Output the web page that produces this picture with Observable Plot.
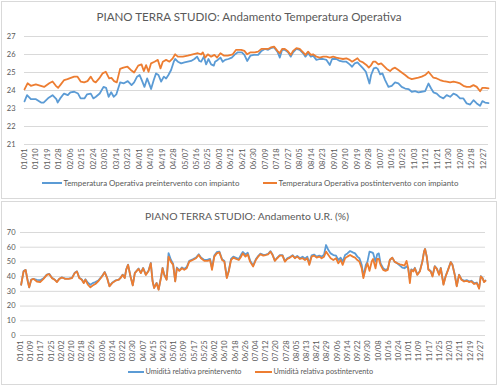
<!DOCTYPE html>
<html><head><meta charset="utf-8">
<script src="https://cdn.jsdelivr.net/npm/d3@7"></script>
<script src="https://cdn.jsdelivr.net/npm/@observablehq/plot@0.6"></script>
<style>
body{margin:0;background:#fff;font-family:Lato,sans-serif;}
#wrap{position:relative;width:500px;height:386px;overflow:hidden;background:#fff;}
.panel{position:absolute;border:1px solid #d9d9d9;box-sizing:border-box;}
.title{position:absolute;text-align:center;color:#595959;line-height:12px;white-space:nowrap;}
.chart{position:absolute;left:0;}
.legend{position:absolute;color:#595959;white-space:nowrap;}
.sw{position:absolute;height:2px;}
</style></head><body><div id="wrap"></div>
<script>
// ---------- Temperature (top chart) ----------
const tempTitle = "PIANO TERRA STUDIO: Andamento Temperatura Operativa";
const tempSeriesNames = ["Temperatura Operativa preintervento con impianto", "Temperatura Operativa postintervento con impianto"];
const tempYTicks = [21, 22, 23, 24, 25, 26, 27];
const tempTickLabels = ["01/01","01/10","01/19","01/28","02/06","02/15","02/24","03/05","03/14","03/23","04/01","04/10","04/19","04/28","05/07","05/16","05/25","06/03","06/12","06/21","06/30","07/09","07/18","07/27","08/05","08/14","08/23","09/01","09/10","09/19","09/28","10/07","10/16","10/25","11/03","11/12","11/21","11/30","12/09","12/18","12/27"];
const tempPreDay = [0,2,5,9,13,15,19,22,25,26,28,31,34,36,39,42,44,47,49,52,54,56,59,62,64,66,68,70,72,75,78,81,84,86,88.3,90.3,92,94.1,96.2,98,99.3,101.4,103.2,105.1,107.2,109.3,111.1,112.9,115,117.1,118.2,120.3,122.9,125.5,128.1,130.7,133.3,135.4,137.2,138.6,140.7,142.5,144.3,146.4,148.5,149.5,151.6,153.7,155.5,157.4,160,162.6,164.7,167.3,170.5,172.5,174.7,177.3,179.9,183.3,185.9,188.5,191.1,193.2,195.8,198.4,200.3,202.1,204.2,206.8,208.9,210.7,213.3,215.9,218.6,220.4,222.5,224.6,226.4,229,231.6,234.3,236.9,239.5,241.3,244.7,247.3,249.9,252.5,255.1,257,259.1,261.2,263,265.6,267.8,269.4,270.6,271.9,274,275.8,277.1,279,280.8,282.9,285.5,288.1,290.7,293.3,295.9,298.6,301.2,303.8,306.4,309,311.6,314.3,316.9,319,320.8,323.4,326,328.6,331.2,333.9,336.5,339.1,341.7,344.3,346.9,349.6,352.2,354.8,357.4,359.2,361.3,364];
const tempPre = [23.4,23.74,23.52,23.52,23.33,23.33,23.6,23.74,23.52,23.33,23.56,23.83,23.74,23.9,23.93,23.83,23.56,23.56,23.78,23.83,23.56,23.65,23.83,24.2,24.15,23.65,23.9,23.65,23.78,24.45,24.4,24.52,24.3,24.45,24.77,24.86,24.58,24.2,24.67,24.34,24.08,24.58,24.95,24.86,24.49,24.77,24.67,24.86,25.14,25.6,25.75,25.6,25.51,25.56,25.6,25.64,25.75,25.88,25.64,25.6,25.88,25.45,25.75,25.45,25.38,25.6,25.7,25.83,25.6,25.7,25.75,25.83,25.98,26.12,26.12,25.98,25.64,25.94,25.98,25.98,26.2,26.31,26.26,26.35,26.39,26.16,25.83,26.26,26.26,26.12,25.88,26.12,26.31,26.26,26.07,25.88,26.07,25.88,25.94,25.7,25.75,25.75,25.7,25.42,25.75,25.75,25.64,25.6,25.6,25.45,25.32,25.51,25.56,25.42,25.23,25.04,24.67,24.39,24.86,25.23,25.27,25.2,24.9,24.95,24.58,24.2,24.26,24.45,24.39,24.2,24.11,24.08,23.93,23.96,23.9,23.93,23.96,24.39,24.11,23.9,23.83,23.65,23.56,23.74,23.65,23.83,23.74,23.56,23.56,23.28,23.22,23.46,23.28,23.15,23.41,23.33,23.3];
const tempPostDay = [0,2.4,5,8.9,12.8,15.4,19.4,22,24.6,26.4,28.5,31.1,33.7,36.3,39,41.6,44.2,46.8,49.4,52,54.1,55.9,58.6,61.2,63.8,66.4,68.2,70.3,72.4,75,77.6,80.8,83.4,86,89.2,91.8,93.6,95.4,97.3,99.3,102,104.6,106.7,108.5,111.1,113.7,116.3,118.2,120.3,124.2,128.1,132,136,138.6,139.9,141.7,143.8,146.4,149,151.1,153.7,156.3,159.5,163.4,166,170,172.5,174.7,177.3,180.7,183.3,185.9,188.5,191.1,193.2,195.8,198.4,200.3,202.1,204.2,206.3,208.9,210.7,213.3,215.9,218.6,220.4,222.5,224.6,226.4,229,231.6,234.3,236.9,239.5,242.1,244.7,247.3,249.9,252.5,255.1,257,259.1,261.2,263,265.6,268.2,270.1,271.6,273.5,275.3,277.6,279.8,281.6,284.2,286.8,288.6,290.7,293.3,295.9,298.6,301.2,303.8,306.4,309,311.6,314.3,316.9,319,320.8,323.4,326,328.6,331.2,333.9,336.5,339.1,341.7,344.3,346.9,349.6,352.2,354.8,357.4,359.2,361.3,364];
const tempPost = [24.06,24.4,24.26,24.34,24.26,24.2,24.4,24.5,24.26,24.15,24.34,24.58,24.63,24.7,24.77,24.77,24.49,24.45,24.52,24.77,24.52,24.45,24.67,24.95,25.04,24.67,24.7,24.52,24.45,25.2,25.27,25.32,25.14,25.0,25.38,25.45,25.08,25.41,25.04,25.51,25.6,25.7,25.23,25.6,25.7,25.6,25.79,26.01,25.88,25.88,25.94,26.01,26.07,26.01,26.12,25.83,26.01,25.88,25.98,25.83,26.07,25.94,25.94,26.01,26.26,26.26,26.2,26.01,26.12,26.12,26.16,26.31,26.31,26.31,26.39,26.44,26.2,26.07,26.31,26.31,26.2,25.98,26.2,26.35,26.31,26.12,25.98,26.16,25.98,26.01,25.88,25.83,25.88,25.88,25.83,25.88,25.83,25.79,25.75,25.79,25.7,25.6,25.7,25.79,25.64,25.56,25.42,25.27,25.38,25.6,25.6,25.45,25.51,25.38,25.2,25.08,25.2,25.27,25.14,25.0,24.86,24.71,24.63,24.67,24.71,24.77,24.86,25.04,24.86,24.71,24.67,24.58,24.52,24.49,24.45,24.49,24.45,24.39,24.26,24.2,24.2,24.3,24.2,23.96,24.15,24.15,24.12];

// ---------- Relative humidity (bottom chart) ----------
const rhTitle = "PIANO TERRA STUDIO: Andamento U.R. (%)";
const rhSeriesNames = ["Umidità relativa preintervento", "Umidità relativa postintervento"];
const rhYTicks = [0, 10, 20, 30, 40, 50, 60, 70];
const rhTickLabels = ["01/01","01/09","01/17","01/25","02/02","02/10","02/18","02/26","03/06","03/14","03/22","03/30","04/07","04/15","04/23","05/01","05/09","05/17","05/25","06/02","06/10","06/18","06/26","07/04","07/12","07/20","07/28","08/05","08/13","08/21","08/29","09/06","09/14","09/22","09/30","10/08","10/16","10/24","11/01","11/09","11/17","11/25","12/03","12/11","12/19","12/27"];
const rhDay = [0.5,2.4,4,5.7,6.8,8.4,10.2,12.8,15.4,18,20.6,22.5,24.6,26.7,28.5,30.4,32.4,35,37.7,40.3,42.4,44.2,46,48,49.5,50.8,52.8,54.7,56.5,58.6,61.2,63.8,65.9,67.8,69.6,71.7,74.3,76.9,78.2,80,81.6,82.7,84.2,86.1,87.9,89.5,92.4,94.2,96,98.1,100.2,102,103.4,104.6,106.5,108.1,109.9,111.2,112.5,114.4,115.9,117.7,119.5,121.1,122.4,124.3,126.4,128.2,130.1,132.1,134.8,137.4,139.5,141.3,143.9,146.5,148.4,149.9,151.7,153.6,155.7,157.8,159.6,161.5,163,164.8,166.6,168.8,170.9,172.7,174,176.1,177.9,179.7,182.1,184.2,186,187.8,190,192,193.9,195.7,197.3,199.1,200.9,203,205.1,207,208.8,210.9,213,214.8,216.6,218.8,220.8,222.7,224.5,226.1,227.9,229.8,231.8,233.9,235.7,237.6,239.2,241,242.8,244.9,247,248.8,250.6,252.2,254.1,255.9,258,260.1,261.9,263.7,265.3,267.1,268.4,270.3,271.6,273.2,275,276,277.9,279.2,280.5,281.8,283.9,285.7,287.5,289.1,291,292.8,294.9,297,298.8,300.6,302.2,303.5,304.8,305.9,307.5,308.7,310.6,312.6,314.6,315.9,316.7,318,319.3,321.1,322.5,324.3,325.9,327.7,329,331.1,332.8,334.7,336.8,338.1,339.9,341.5,343.3,345.2,347.2,349.3,351.1,353,355.1,357.2,359,360.3,361.6,362.9,364];
const rhPost = [34.5,43.5,44.6,36.7,32.7,37.9,38.5,36.7,36.3,38.5,41.2,41.7,39,37.9,36.3,38.5,39.4,38.5,38.5,39,42.4,43.5,39,37.9,35.6,37.9,34.5,32.7,34,35,37.2,40.1,43,39,33.4,35.6,37.2,37.9,39,41.2,39,44.6,48,40.1,34,42.4,45.3,42.4,45.7,41.2,43.9,49.1,36.7,32.2,35.6,31.1,39,45.7,41.2,37.9,53.6,50.2,48,36.7,45.7,43.9,45.7,44.6,45.7,50.2,51.3,52.5,54.7,52.5,50.7,50.7,51.3,44.6,53.6,55.8,56.5,51.3,50.2,39,43.5,51.3,52.9,52,51.3,53.6,55.8,53.6,55.2,50.2,46.9,51.3,53.6,55.2,54.3,54.7,55.2,57,54.7,50.7,52.5,54.3,54.3,50.2,52,52.9,54.3,52.5,53.6,52,52.5,51.3,52.5,48,53.6,54.3,52.9,53.6,52.5,53.6,57,54.7,52.5,51.3,52.5,49.1,51.3,48,52.5,53.6,54.7,53.6,52.9,51.3,50.2,45.7,39,45.7,49.1,44,50.5,52,45.7,52,52,48,44.6,43.9,44.6,51.3,52.9,50.2,49.1,48.4,48,47.5,50.7,45.7,35.6,44.6,43.5,45.7,41.2,43.5,50.2,57,58.8,53.6,44.6,43.5,40.1,46.9,45.3,41.2,45.7,34.5,40.1,44.6,49.8,48,41.2,33.4,41.2,37.9,36.7,37.2,36.3,36.7,35,35.6,31.8,40.1,39,36.3,37.2];
const rhPre = [34.5,43.8,44.6,37,32.7,38,38.5,37.8,37.6,38.8,41.4,41.9,39.2,38,36.6,38.6,39.5,38.7,38.6,39.2,42.6,43.6,39.3,38,35.9,38.2,35.8,34.5,35.6,36.3,37.6,40.3,43.2,39.3,33.6,35.8,37.4,38,39.1,41.4,39.2,44.8,48.2,40.3,34.2,42.6,45.5,42.6,45.9,41.4,44,49.3,37,32.5,35.8,31.4,39.2,46,41.5,38.2,56,51.5,48.6,37,46.2,44.3,46.3,45.2,46.5,50.8,51.8,53,55.2,53,51.3,51.5,52,46,54.3,56.6,57,51.8,50.6,39.5,44,52,53.6,52.8,52,55,56.8,55,56.2,51,47.5,51.8,54,55.6,54.8,55,55.5,57.3,55,51,52.8,54.6,54.6,50.5,52.4,53.3,54.6,52.8,54,52.5,53.5,52.2,53.6,49,54.5,55,53.6,54.3,53.6,55,61.5,58.1,55.8,54.7,54.3,51.3,52.9,50.2,54.7,55.8,57.4,56.5,55.8,53.6,52.5,48,40.1,48,50.2,57,56.5,56,50.2,55.2,55.8,49.1,45.7,44.6,45.3,51.3,52.9,50.2,49.1,47.5,46.2,45.7,46.9,45.7,37.9,45,44,46,41.5,43.8,50.4,57.2,58.8,53.8,45,43.8,40.5,47.2,45.5,41.5,46,35,40.4,44.8,50,48.3,41.5,33.8,41.4,38.2,37.2,37.6,36.8,37.2,35.5,36,32.3,40.3,39.2,36.6,37.4];

const BLUE = "#5b9bd5", ORANGE = "#ed7d31", GRID = "#d9d9d9", TEXT = "#595959";

function dayOfYear(lbl) {
  const [m, d] = lbl.split("/").map(Number);
  return d3.utcDay.count(new Date(Date.UTC(2019, 0, 1)), new Date(Date.UTC(2019, m - 1, d)));
}
function rows(days, vals) { return days.map((d, i) => ({day: d, v: vals[i]})); }

const wrap = document.getElementById("wrap");
function add(html) { wrap.insertAdjacentHTML("beforeend", html); }

// panels
add('<div class="panel" style="left:1px;top:1px;width:495px;height:198px"></div>');
add('<div class="panel" style="left:1px;top:201px;width:496px;height:184px"></div>');

// titles
add(`<div class="title" style="left:0;width:498px;top:11px;font-size:11.6px">${tempTitle}</div>`);
add(`<div class="title" style="left:0;width:494px;top:210px;font-size:10.4px">${rhTitle}</div>`);

function makeChart({top, height, mt, mb, ml, mr, yDomain, yTicks, yPad, xPad, tickLabels, pre, post}) {
  const tickDays = tickLabels.map(dayOfYear);
  const lab = new Map(tickDays.map((d, i) => [d, tickLabels[i]]));
  const svg = Plot.plot({
    width: 500, height, marginTop: mt, marginBottom: mb, marginLeft: ml, marginRight: mr,
    style: {fontFamily: "Lato, sans-serif", fontSize: "7.5px", color: TEXT, background: "transparent", overflow: "visible"},
    x: {domain: [0, 364], ticks: tickDays, tickFormat: d => lab.get(d), tickRotate: -90, tickSize: 0, tickPadding: xPad, label: null},
    y: {domain: yDomain, ticks: yTicks, tickFormat: d => String(d), tickSize: 0, tickPadding: yPad, label: null},
    marks: [
      Plot.gridY(yTicks, {stroke: GRID, strokeOpacity: 1, strokeWidth: 1}),
      Plot.line(pre, {x: "day", y: "v", stroke: BLUE, strokeWidth: 1.8}),
      Plot.line(post, {x: "day", y: "v", stroke: ORANGE, strokeWidth: 1.8})
    ]
  });
  svg.classList.add("chart");
  svg.style.top = top + "px";
  wrap.appendChild(svg);
}

makeChart({top: 0, height: 172, mt: 36, mb: 28, ml: 24, mr: 12, yDomain: [21, 27], yTicks: tempYTicks, yPad: 9, xPad: 4,
  tickLabels: tempTickLabels, pre: rows(tempPreDay, tempPre), post: rows(tempPostDay, tempPost)});
makeChart({top: 200, height: 162, mt: 32, mb: 27, ml: 20, mr: 15, yDomain: [0, 70], yTicks: rhYTicks, yPad: 5, xPad: 5,
  tickLabels: rhTickLabels, pre: rows(rhDay, rhPre), post: rows(rhDay, rhPost)});

// legends
function legend(x1, x2, y, color, text, fs) {
  add(`<div class="sw" style="left:${x1}px;top:${y - 1}px;width:${x2 - x1}px;background:${color}"></div>`);
  add(`<div class="legend" style="left:${x2 + 1.5}px;top:${y - 6}px;line-height:12px;font-size:${fs}px">${text}</div>`);
}
legend(42, 62, 183, BLUE, tempSeriesNames[0], 7.9);
legend(263, 277, 183, ORANGE, tempSeriesNames[1], 7.9);
legend(128, 144, 372, BLUE, rhSeriesNames[0], 7.3);
legend(255, 272, 372, ORANGE, rhSeriesNames[1], 7.3);
</script></body></html>
